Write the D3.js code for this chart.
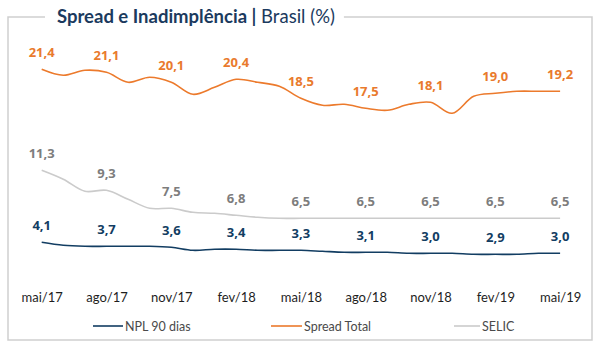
<!DOCTYPE html>
<html>
<head>
<meta charset="utf-8">
<script src="https://cdn.jsdelivr.net/npm/d3@7"></script>
<style>
  html, body { margin: 0; padding: 0; background: #fff; }
  svg { display: block; }
</style>
</head>
<body>
<div id="chart"></div>
<script>
// monthly series, mai/17 .. mai/19
const months = ["mai/17", "jun/17", "jul/17", "ago/17", "set/17", "out/17", "nov/17", "dez/17",
  "jan/18", "fev/18", "mar/18", "abr/18", "mai/18", "jun/18", "jul/18", "ago/18", "set/18",
  "out/18", "nov/18", "dez/18", "jan/19", "fev/19", "mar/19", "abr/19", "mai/19"]
const spread = [21.4, 20.8, 21.3, 21.1, 20.1, 20.6, 20.1, 18.9, 19.6, 20.4, 20.1, 19.7, 18.5,
  17.8, 17.9, 17.5, 17.3, 17.9, 18.1, 17.0, 18.7, 19.0, 19.2, 19.2, 19.2]
const selic = [11.3, 10.4, 9.2, 9.3, 8.4, 7.5, 7.5, 7.1, 7.0, 6.8, 6.6, 6.5, 6.5,
  6.5, 6.5, 6.5, 6.5, 6.5, 6.5, 6.5, 6.5, 6.5, 6.5, 6.5, 6.5]
const npl = [4.1, 3.8, 3.7, 3.7, 3.7, 3.7, 3.6, 3.3, 3.4, 3.4, 3.3, 3.3, 3.3,
  3.2, 3.1, 3.1, 3.1, 3.0, 3.0, 3.0, 2.9, 2.9, 2.9, 3.0, 3.0]
const seriesNames = ["NPL 90 dias", "Spread Total", "SELIC"]
const tickEvery = 3

const width = 599, height = 346
const colors = { npl: "#123d62", spread: "#ec7a2c", selic: "#cbcbcb" }
const labelColors = { npl: "#123d62", spread: "#e97a2d", selic: "#7d7d7d" }

const ptBR = d3.formatLocale({ decimal: ",", thousands: ".", grouping: [3], currency: ["R$", ""] })
const fmt = ptBR.format(".1f")

const svg = d3.select("#chart").append("svg")
  .attr("width", width)
  .attr("height", height)

const x = d3.scaleLinear().domain([0, months.length - 1]).range([41.7, 560.1])
const y = d3.scaleLinear().domain([0, 22]).range([283.3, 63.3])

// title with the frame broken around it
const title = svg.append("text")
  .attr("x", 57)
  .attr("y", 23)
  .style("font-family", "Lato, 'Open Sans', sans-serif")
  .style("font-size", "18.5px")
  .style("fill", "#1b3a5e")
title.append("tspan").style("font-weight", "bold").text("Spread e Inadimplência ")
title.append("tspan").style("font-weight", "bold").text("|")
title.append("tspan").text(" Brasil (%)")
const titleEnd = 57 + title.node().getComputedTextLength()

const frameTop = 17, frameLeft = 8, frameRight = 592, frameBottom = 340
svg.append("path")
  .attr("fill", "none")
  .attr("stroke", "#cfcfcf")
  .attr("stroke-width", 1.5)
  .attr("d", `M45,${frameTop}H${frameLeft}V${frameBottom}H${frameRight}V${frameTop}H${titleEnd + 9}`)

// lines
const line = d3.line()
  .x((d, i) => x(i))
  .y(d => y(d))
  .curve(d3.curveCatmullRom.alpha(0.5))

const series = [
  { key: "selic", values: selic },
  { key: "npl", values: npl },
  { key: "spread", values: spread }
]

series.forEach(s => {
  svg.append("path")
    .datum(s.values)
    .attr("fill", "none")
    .attr("stroke", colors[s.key])
    .attr("stroke-width", 1.6)
    .attr("d", line)

  svg.append("g")
    .selectAll("text")
    .data(s.values.map((v, i) => ({ v, i })).filter(d => d.i % tickEvery === 0))
    .join("text")
    .attr("x", d => x(d.i))
    .attr("y", d => y(d.v) - 12.5)
    .attr("text-anchor", "middle")
    .style("font-family", "'Open Sans', sans-serif")
    .style("font-size", "13px")
    .style("font-weight", "bold")
    .style("fill", labelColors[s.key])
    .text(d => fmt(d.v))
})

// month axis
const xAxis = d3.axisBottom(x)
  .tickValues(d3.range(0, months.length, tickEvery))
  .tickFormat(i => months[i])
  .tickSize(0)
  .tickPadding(0)

const axisG = svg.append("g")
  .attr("transform", "translate(0,293)")
  .call(xAxis)
axisG.select(".domain").remove()
axisG.selectAll("text")
  .style("font-family", "Lato, 'Open Sans', sans-serif")
  .style("font-size", "13px")
  .style("fill", "#1e1e1e")

// legend
const legendItems = [
  { name: seriesNames[0], key: "npl", x: 93, len: 30 },
  { name: seriesNames[1], key: "spread", x: 271, len: 31 },
  { name: seriesNames[2], key: "selic", x: 454, len: 26 }
]
const legend = svg.append("g").attr("transform", "translate(0,326)")
legendItems.forEach(it => {
  legend.append("line")
    .attr("x1", it.x).attr("x2", it.x + it.len)
    .attr("y1", 0).attr("y2", 0)
    .attr("stroke", colors[it.key])
    .attr("stroke-width", 1.6)
  legend.append("text")
    .attr("x", it.x + it.len + 2)
    .attr("y", 4.5)
    .style("font-family", "Lato, 'Open Sans', sans-serif")
    .style("font-size", "12.5px")
    .style("fill", "#4a4a4a")
    .text(it.name)
})
</script>
</body>
</html>
